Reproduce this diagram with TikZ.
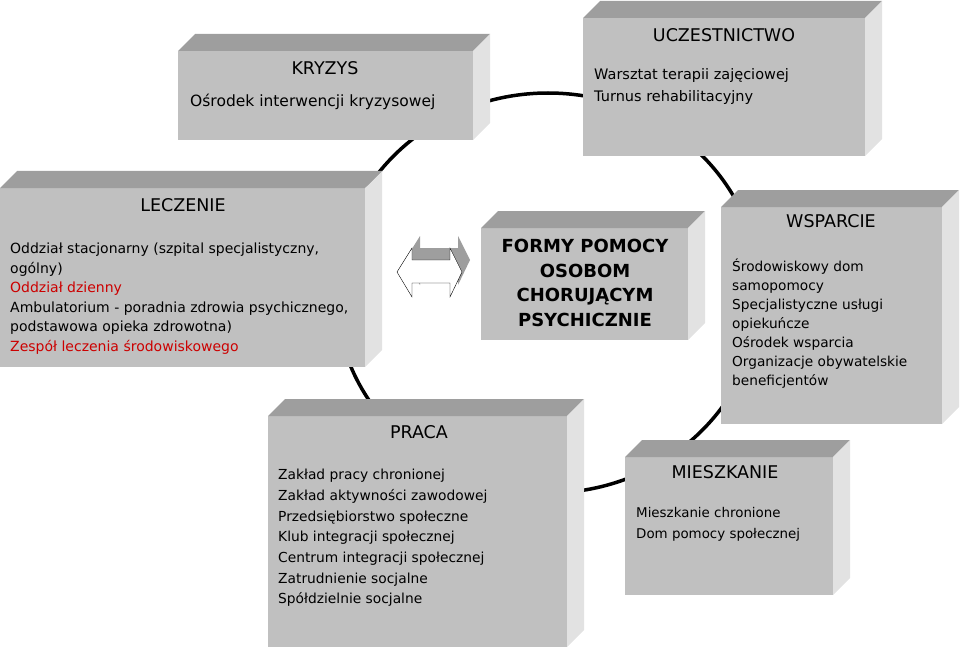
\documentclass[tikz,border=0pt]{standalone}
\usepackage{fontspec}
\setmainfont{DejaVu Sans}
\usetikzlibrary{positioning}
\definecolor{boxFront}{RGB}{192,192,192}
\definecolor{boxTop}{RGB}{158,158,158}
\definecolor{boxSide}{RGB}{226,226,226}
\definecolor{colorRed}{RGB}{204,0,0}
\tikzset{
  face/.style={fill=boxFront, anchor=north west, inner sep=0pt, outer sep=0pt},
  title/.style={font=\fontsize{17.5}{20}\selectfont},
  items/.style={anchor=north west, align=left, inner sep=0pt, font=\fontsize{14}{19.5}\selectfont},
  ring/.style={line width=3.5pt},
}
% top and right faces of a box
\newcommand{\boxdepth}[1]{%
  \fill[boxTop] (#1.north west) -- ++(17,-17) -- ([shift={(17,-17)}]#1.north east) -- (#1.north east) -- cycle;
  \fill[boxSide] (#1.north east) -- ++(17,-17) -- ([shift={(17,-17)}]#1.south east) -- (#1.south east) -- cycle;}

\begin{document}
\begin{tikzpicture}[x=1pt, y=-1pt]
\useasboundingbox (0,0) rectangle (960,647);
\draw[ring] (548,293) ellipse [x radius=212, y radius=200];

\node[face, minimum width=295, minimum height=89] (kryzys) at (178,51) {};
\boxdepth{kryzys}
\node[title] (kryzysT) at (325,68) {KRYZYS};
\node[items, font=\fontsize{15.5}{20}\selectfont] (kryzysL) at (190,94) {Ośrodek interwencji kryzysowej};

\node[face, minimum width=282, minimum height=138] (uczest) at (583,18) {};
\boxdepth{uczest}
\node[title] (uczestT) at (724,35) {UCZESTNICTWO};
\node[items, font=\fontsize{14.5}{22}\selectfont] (uczestL) at (594,68) {Warsztat terapii zajęciowej\\Turnus rehabilitacyjny};

\node[face, minimum width=365, minimum height=179] (leczenie) at (0,188) {};
\boxdepth{leczenie}
\node[title] (leczenieT) at (183,205) {LECZENIE};
\node[items] (leczenieL) at (10,243) {Oddział stacjonarny (szpital specjalistyczny,\\ogólny)\\\textcolor{colorRed}{Oddział dzienny}\\Ambulatorium - poradnia zdrowia psychicznego,\\podstawowa opieka zdrowotna)\\\textcolor{colorRed}{Zespół leczenia środowiskowego}};

\node[face, minimum width=207, minimum height=112] (formy) at (481,228) {};
\boxdepth{formy}
\node[align=center, font=\bfseries\fontsize{18}{24.5}\selectfont] (formyT) at (585,283) {FORMY POMOCY\\OSOBOM\\CHORUJĄCYM\\PSYCHICZNIE};

\node[face, minimum width=221, minimum height=217] (wsparcie) at (721,207) {};
\boxdepth{wsparcie}
\node[title] (wsparcieT) at (831,221) {WSPARCIE};
\node[items, font=\fontsize{13.7}{19}\selectfont] (wsparcieL) at (732,259) {Środowiskowy dom\\samopomocy\\Specjalistyczne usługi\\opiekuńcze\\Ośrodek wsparcia\\Organizacje obywatelskie\\beneficjentów};

\node[face, minimum width=299, minimum height=231] (praca) at (268,416) {};
\boxdepth{praca}
\node[title] (pracaT) at (419,432) {PRACA};
\node[items, font=\fontsize{13.8}{20.7}\selectfont] (pracaL) at (278,469) {Zakład pracy chronionej\\Zakład aktywności zawodowej\\Przedsiębiorstwo społeczne\\Klub integracji społecznej\\Centrum integracji społecznej\\Zatrudnienie socjalne\\Spółdzielnie socjalne};

\node[face, minimum width=208, minimum height=138] (mieszk) at (625,457) {};
\boxdepth{mieszk}
\node[title] (mieszkT) at (725,472) {MIESZKANIE};
\node[items, font=\fontsize{13.4}{21}\selectfont] (mieszkL) at (636,507) {Mieszkanie chronione\\Dom pomocy społecznej};

% double arrow
\fill[boxTop] (405,260) -- (420,236) -- (420,248) -- (458,248) -- (458,236) -- (470,260) -- (458,285) -- (458,271) -- (420,271) -- (420,285) -- cycle;
\draw[fill=white] (397,272) -- (412,248) -- (412,260) -- (450,260) -- (450,248) -- (462,272) -- (450,297) -- (450,283) -- (412,283) -- (412,297) -- cycle;
\end{tikzpicture}
\end{document}
